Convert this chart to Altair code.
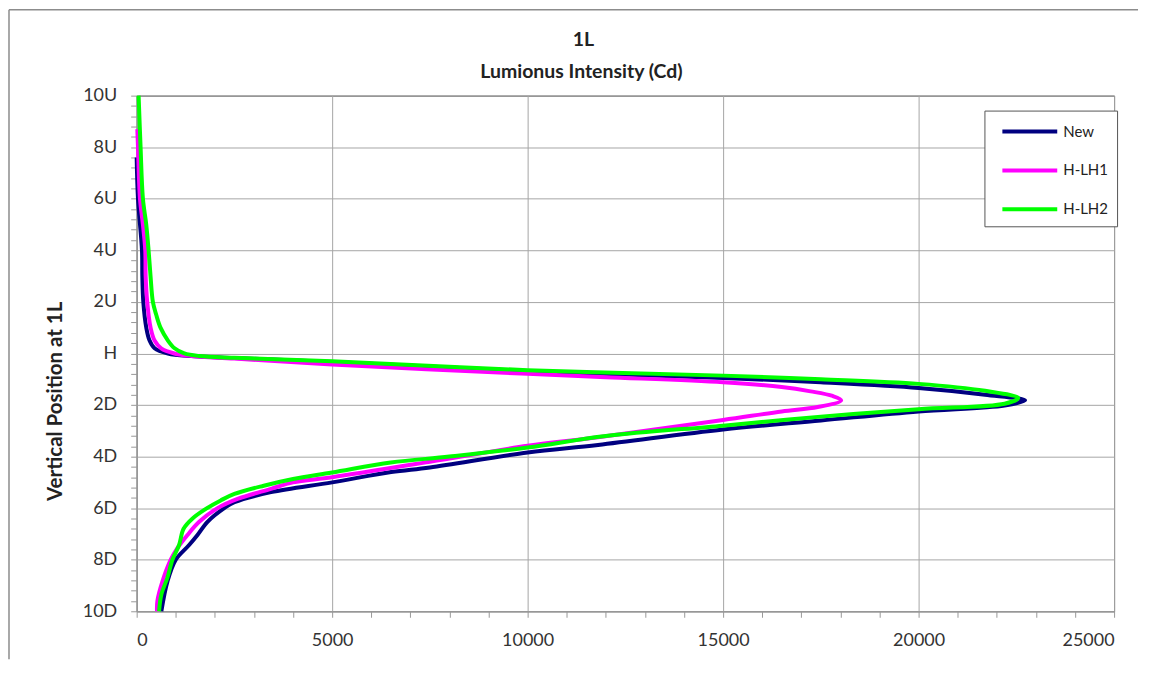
import altair as alt
import pandas as pd

# ---- data (intensity in cd, vertical position in degrees; U>0, D<0)
new_pos = [7.6, 6, 4, 3, 2, 1, 0.5, 0.2, 0, -0.1, -0.18, -0.33, -0.68, -0.95, -1.12, -1.34, -1.6, -1.82,
           -2.02, -2.25, -2.6, -2.95, -3.55, -3.84, -4.42, -4.6, -5.0, -5.38, -5.77, -6.0, -6.53, -7.04,
           -7.43, -8.0, -8.85, -10]
new_cd = [0, 34, 136, 145, 170, 246, 330, 458, 800, 1390, 2500, 5000, 10000, 15000, 17500, 20000, 21700, 22725,
          22200, 20000, 17500, 15000, 11800, 10000, 7500, 6510, 5000, 3436, 2500, 2240, 1812, 1556,
          1342, 1000, 786, 632]

lh1_pos = [8.7, 8, 6, 5, 4, 3, 2, 1, 0.5, 0.2, 0, -0.1, -0.2, -0.43, -0.79, -0.92, -1.12, -1.3, -1.47, -1.65,
           -1.82, -2.08, -2.25, -2.58, -3.25, -3.58, -4.2, -4.8, -5.0, -5.25, -5.64, -6.0, -6.53, -7.04,
           -7.55, -8.0, -8.85, -9.6, -10]
lh1_cd = [17, 34, 85, 160, 220, 230, 270, 356, 458, 627, 966, 1400, 2500, 5000, 10000, 12000, 15000, 16500, 17240, 17800,
          18020, 17420, 16500, 15000, 11800, 10000, 7500, 5000, 4000, 3436, 2580, 2068, 1600, 1300,
          1043, 872, 658, 530, 520]

lh2_pos = [10, 8, 6, 5, 4, 3, 2, 1.5, 1, 0.5, 0.2, 0, -0.1, -0.17, -0.3, -0.65, -0.86, -1.0, -1.18, -1.45,
           -1.73, -1.95, -2.16, -2.45, -2.8, -3.2, -3.65, -4.0, -4.23, -4.62, -4.87, -5.13, -5.45, -5.7,
           -6.0, -6.4, -6.8, -7.43, -8.0, -8.7, -9.35, -10]
lh2_cd = [50, 100, 160, 245, 305, 355, 415, 500, 610, 800, 970, 1220, 1600, 2500, 5000, 10000, 15000, 17500, 20000, 21700,
          22550, 22200, 20000, 17500, 15000, 12000, 10000, 8000, 6500, 5000, 4000, 3250, 2500, 2150,
          1800, 1430, 1200, 1085, 915, 786, 632, 573]

series_names = ["New", "H-LH1", "H-LH2"]
series_colors = ["#000080", "#FF00FF", "#00FF00"]

chart_title = "1L"
chart_subtitle = "Lumionus Intensity (Cd)"

y_ticks = [round(-10 + 0.4 * i, 1) for i in range(51)]
x_ticks = [1000 * i for i in range(26)]

rows = []
for name, pos, cd in [("New", new_pos, new_cd), ("H-LH1", lh1_pos, lh1_cd), ("H-LH2", lh2_pos, lh2_cd)]:
    for i, (p, c) in enumerate(zip(pos, cd)):
        rows.append({"series": name, "pos": p, "cd": c, "idx": i})
df = pd.DataFrame(rows)

FONT = "Lato"

lines = alt.Chart(df).mark_line(strokeWidth=4, interpolate="catmull-rom").encode(
    x=alt.X("cd:Q", scale=alt.Scale(domain=[0, 25000], nice=False),
            axis=alt.Axis(values=x_ticks, title=None,
                          labelExpr="datum.value % 5000 == 0 ? format(datum.value, 'd') : ''",
                          gridOpacity={"condition": {"test": "datum.value % 5000 == 0", "value": 1}, "value": 0},
                          labelPadding=14)),
    y=alt.Y("pos:Q", scale=alt.Scale(domain=[-10, 10], nice=False),
            axis=alt.Axis(values=y_ticks, title="Vertical Position at 1L",
                          labelExpr="datum.value % 2 != 0 ? '' : (datum.value == 0 ? 'H' : (datum.value > 0 ? datum.value + 'U' : (-datum.value) + 'D'))",
                          gridOpacity={"condition": {"test": "datum.value % 2 == 0", "value": 1}, "value": 0},
                          labelPadding=14, titleX=-81, titleY=306, titleAngle=270,
                          titleAlign="center", titleBaseline="middle")),
    color=alt.Color("series:N", scale=alt.Scale(domain=series_names, range=series_colors),
                    legend=alt.Legend(title=None, orient="none", legendX=850, legendY=15,
                                      fillColor="white", strokeColor="#555555", padding=9,
                                      symbolType="M-0.3,0H5.2", symbolSize=400, symbolStrokeWidth=4,
                                      labelOffset=46, rowPadding=19, labelFontSize=15,
                                      labelFont=FONT, labelColor="#222222")),
    order=alt.Order("idx:Q"),
)

frame_src = pd.DataFrame({"k": [0]})
frame_left = alt.Chart(frame_src).mark_rule(color="#8C8C8C", strokeWidth=1.5).encode(
    x=alt.value(-128), y=alt.value(-86), y2=alt.value(565))
frame_top = alt.Chart(frame_src).mark_rule(color="#8C8C8C", strokeWidth=1.5).encode(
    x=alt.value(-128), x2=alt.value(1004), y=alt.value(-86))

title_txt = alt.Chart(pd.DataFrame({"t": [chart_title]})).mark_text(
    font=FONT, fontSize=19.5, fontWeight="bold", color="#222222", align="center", baseline="middle"
).encode(text="t:N", x=alt.value(448), y=alt.value(-56))
subtitle_txt = alt.Chart(pd.DataFrame({"t": [chart_subtitle]})).mark_text(
    font=FONT, fontSize=19.5, fontWeight="bold", color="#222222", align="center", baseline="middle"
).encode(text="t:N", x=alt.value(446), y=alt.value(-24))

chart = alt.layer(lines, frame_left, frame_top, title_txt, subtitle_txt).properties(
    width=980, height=517,
    padding={"left": 0, "top": 0, "right": 6, "bottom": 0},
).configure_axis(
    labelFont=FONT, labelFontSize=18, labelColor="#333333",
    titleFont=FONT, titleFontSize=20.5, titleFontWeight="bold", titleColor="#222222",
    gridColor="#A6A6A6", gridWidth=1, domainColor="#999999", tickColor="#999999",
    tickSize=6,
).configure_view(
    stroke="#333333", strokeWidth=1
)

chart.save("out.html", embed_options={"renderer": "svg", "actions": False})
